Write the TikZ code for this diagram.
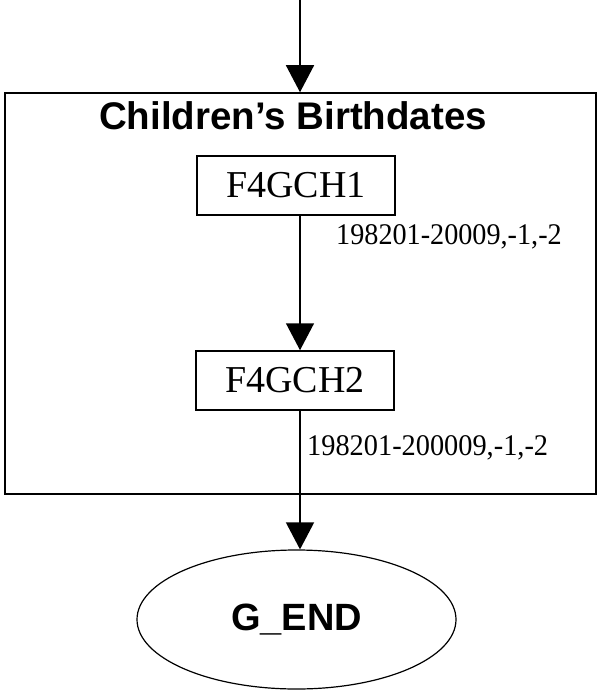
\documentclass[tikz,border=0pt]{standalone}
\usepackage{fontspec}
\setmainfont{Liberation Serif}
\setsansfont{Liberation Sans}
\usetikzlibrary{arrows.meta,shapes.geometric}
\tikzset{
  edge/.style={line width=1.5pt, -{Triangle[width=28pt,length=27pt]}},
  recbox/.style={draw, line width=1.5pt, rectangle, minimum width=198pt, minimum height=59pt, inner sep=0pt,
     font=\fontsize{38}{40}\selectfont},
  endnode/.style={draw, line width=1.2pt, ellipse, minimum width=319pt, minimum height=139pt, inner sep=0pt,
     font=\sffamily\bfseries\fontsize{38}{40}\selectfont},
  cluster/.style={draw, line width=1.5pt, rectangle, minimum width=591pt, minimum height=401pt, inner sep=0pt},
  title/.style={font=\sffamily\bfseries\fontsize{38.5}{40}\selectfont, anchor=base, inner sep=0pt},
  elabel/.style={anchor=base west, inner sep=0pt, font=\fontsize{30}{32}\selectfont}
}
\begin{document}
\begin{tikzpicture}[x=1pt,y=-1pt]
\useasboundingbox (0,0) rectangle (597,692);
\node[cluster] (cl) at (300.5,293.5) {};
\node[title] (ttl) at (293,130) {Children’s Birthdates};
\node[recbox] (b1) at (296,185.5) {F4GCH1};
\node[recbox] (b2) at (295,380.5) {F4GCH2};
\node[endnode] (end) at (296.5,619.5) {G\_END};
\coordinate (start) at (300,0);
\draw[edge] (start) -- (start |- cl.north);
\draw[edge] ([xshift=4pt]b1.south) -- ([xshift=4pt]b1.south |- b2.north);
\draw[edge] ([xshift=5pt]b2.south) -- ([xshift=5pt]b2.south |- end.north);
\node[elabel] (l1) at (336,245) {\scalebox{0.94}[1]{198201-20009,-1,-2}};
\node[elabel] (l2) at (307,455) {\scalebox{0.945}[1]{198201-200009,-1,-2}};
\end{tikzpicture}
\end{document}
